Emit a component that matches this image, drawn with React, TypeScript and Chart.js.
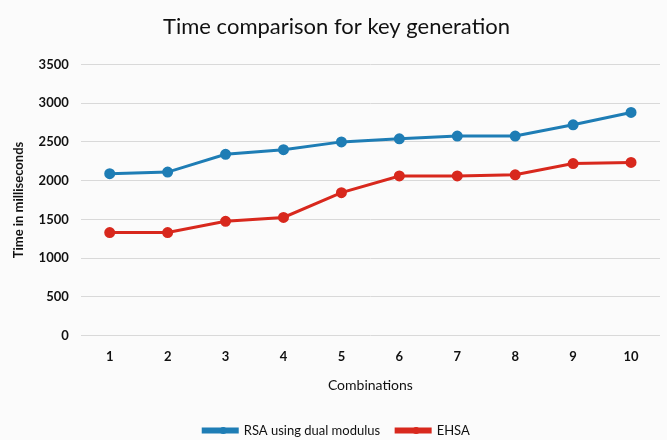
import React, { useEffect, useRef } from "react";
import { Chart, registerables } from "chart.js";

Chart.register(...registerables);

const categories = ["1", "2", "3", "4", "5", "6", "7", "8", "9", "10"];
const rsaValues = [2090, 2110, 2340, 2400, 2500, 2540, 2575, 2575, 2720, 2880];
const ehsaValues = [1330, 1330, 1475, 1525, 1845, 2060, 2060, 2075, 2220, 2235];
const seriesNames = ["RSA using dual modulus", "EHSA"];
const chartTitle = "Time comparison for key generation";
const xTitle = "Combinations";
const yTitle = "Time in milliseconds";

const BLUE = "#1e7db5";
const RED = "#d8281d";
const FONT = "Lato, 'Open Sans', sans-serif";

const legendDots = {
  id: "legendDots",
  afterDraw(chart: any) {
    const lg = chart.legend;
    if (!lg || !lg.legendHitBoxes) return;
    const ctx = chart.ctx;
    lg.legendHitBoxes.forEach((hb: any, i: number) => {
      const ds = chart.data.datasets[i];
      const bw = lg.options.labels.boxWidth;
      ctx.save();
      ctx.fillStyle = ds.borderColor;
      ctx.beginPath();
      ctx.arc(hb.left + bw / 2 + 3, hb.top + hb.height / 2, 3.5, 0, Math.PI * 2);
      ctx.fill();
      ctx.restore();
    });
  },
};

export default function App() {
  const ref = useRef<HTMLCanvasElement | null>(null);
  useEffect(() => {
    if (!ref.current) return;
    const chart = new Chart(ref.current, {
      type: "line",
      data: {
        labels: categories,
        datasets: [
          {
            label: seriesNames[0],
            data: rsaValues,
            borderColor: BLUE,
            backgroundColor: BLUE,
            borderWidth: 3,
            pointRadius: 4,
            pointBackgroundColor: BLUE,
            pointBorderColor: BLUE,
            tension: 0,
          },
          {
            label: seriesNames[1],
            data: ehsaValues,
            borderColor: RED,
            backgroundColor: RED,
            borderWidth: 3,
            pointRadius: 4,
            pointBackgroundColor: RED,
            pointBorderColor: RED,
            tension: 0,
          },
        ],
      },
      options: {
        animation: false,
        responsive: true,
        maintainAspectRatio: false,
        layout: { padding: { left: 11, right: 5, top: 10, bottom: -7 } },
        plugins: {
          title: {
            display: true,
            text: chartTitle,
            color: "#111",
            font: { family: FONT, size: 22, weight: "normal" },
            padding: { top: 4, bottom: 24 },
          },
          legend: {
            position: "bottom",
            labels: {
              color: "#111",
              font: { family: FONT, size: 13 },
              boxWidth: 34,
              boxHeight: 3,
              padding: 16,
            },
          },
          tooltip: { enabled: false },
        },
        scales: {
          x: {
            offset: true,
            grid: { display: false, drawTicks: false },
            border: { display: false },
            ticks: { color: "#111", font: { family: FONT, size: 13, weight: "bold" }, padding: 13 },
            title: {
              display: true,
              text: xTitle,
              color: "#111",
              font: { family: FONT, size: 14 },
              padding: { top: 0, bottom: 14 },
            },
          },
          y: {
            min: 0,
            max: 3500,
            ticks: {
              stepSize: 500,
              color: "#111",
              font: { family: FONT, size: 13, weight: "bold" },
              padding: 12,
              callback: (v: any) => String(v),
            },
            grid: { color: "#d9d9d9", drawTicks: false },
            border: { display: false },
            title: {
              display: true,
              text: yTitle,
              color: "#111",
              font: { family: FONT, size: 13, weight: "bold" },
              padding: { top: 0, bottom: 0 },
            },
          },
        },
      },
      plugins: [legendDots],
    });
    return () => chart.destroy();
  }, []);
  return (
    <div style={{ position: "fixed", left: 0, top: 0, width: 667, height: 440, background: "#fbfbfb" }}>
      <canvas ref={ref} />
    </div>
  );
}
